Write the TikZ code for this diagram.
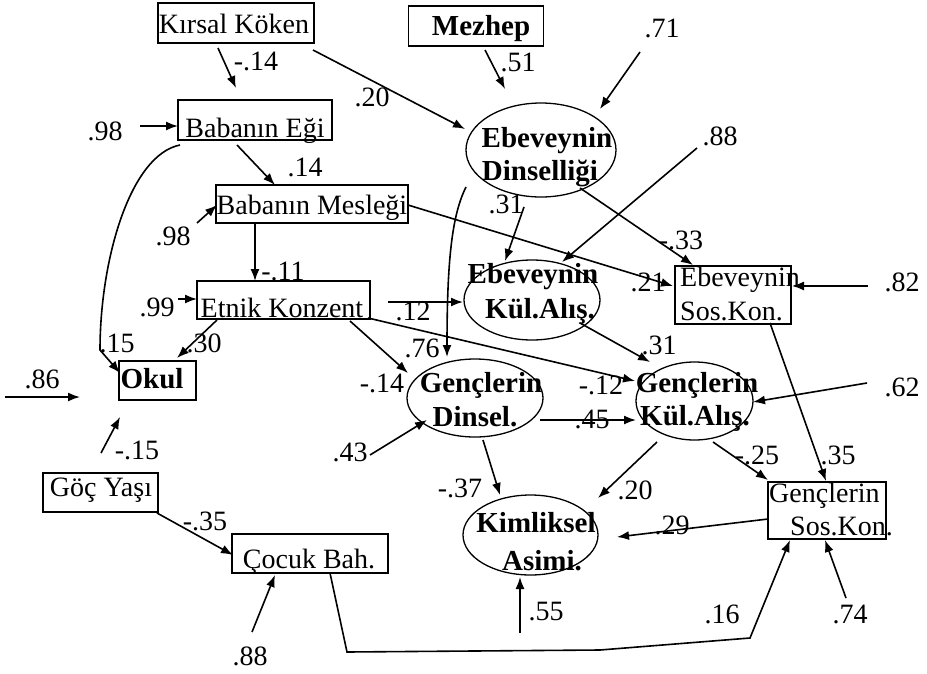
\documentclass[tikz,border=0pt]{standalone}
\usepackage{fontspec}
\setmainfont{Liberation Serif}
\usetikzlibrary{shapes.geometric,arrows.meta,calc}
\begin{document}
\begin{tikzpicture}[x=1pt,y=-1pt,
  box/.style={draw,line width=1.3pt,rectangle,inner sep=0pt},
  ell/.style={draw,line width=1.3pt,ellipse,inner sep=0pt},
  txt/.style={inner sep=0pt,anchor=base,font=\fontsize{28}{32}\selectfont},
  btxt/.style={inner sep=0pt,anchor=base,font=\fontsize{29}{32}\selectfont\bfseries},
  lbl/.style={inner sep=0pt,font=\fontsize{28}{32}\selectfont},
  arr/.style={line width=1.6pt,-{Latex[length=12pt,width=9pt]}}]
\path[use as bounding box] (0,0) rectangle (927,673);

% shapes
\node[box,minimum width=156pt,minimum height=40pt] (kk) at (236,23) {};
\node[box,minimum width=135pt,minimum height=40pt] (mz) at (476,26) {};
\node[box,minimum width=154pt,minimum height=40pt] (be) at (255,120) {};
\node[box,minimum width=192pt,minimum height=38pt] (bm) at (312,204) {};
\node[box,minimum width=173pt,minimum height=38pt] (ek) at (283.5,300) {};
\node[box,minimum width=77pt,minimum height=39pt] (ok) at (157.5,380.5) {};
\node[box,minimum width=115pt,minimum height=39pt] (gy) at (100.5,492.5) {};
\node[box,minimum width=156pt,minimum height=39pt] (cb) at (310,553.5) {};
\node[box,minimum width=116pt,minimum height=58pt] (es) at (733,295) {};
\node[box,minimum width=118pt,minimum height=57pt] (gs) at (827,510.5) {};
\node[ell,minimum width=150pt,minimum height=94pt] (ed) at (541,150) {};
\node[ell,minimum width=136pt,minimum height=80pt] (ea) at (532,300) {};
\node[ell,minimum width=136pt,minimum height=78pt] (gd) at (475,398) {};
\node[ell,minimum width=117pt,minimum height=78pt] (ga) at (694.5,401) {};
\node[ell,minimum width=135pt,minimum height=80pt] (ka) at (530.5,535) {};

% texts
\node[txt] (kkt) at (234,33) {Kırsal Köken};
\node[btxt] (mzt) at (481,35) {Mezhep};
\node[txt] (bet) at (255,137) {Babanın Eği};
\node[txt] (bmt) at (312,214) {Babanın Mesleği};
\node[txt] (ekt) at (282,317) {Etnik Konzent};
\node[btxt] (okt) at (152,388) {Okul};
\node[txt] (gyt) at (101,496) {Göç Yaşı};
\node[txt] (cbt) at (309,568) {Çocuk Bah.};
\node[txt,anchor=base west] (est1) at (680,286) {Ebeveynin};
\node[txt,anchor=base west] (est2) at (680,320) {Sos.Kon.};
\node[txt,anchor=base west] (gst1) at (769,502) {Gençlerin};
\node[txt,anchor=base west] (gst2) at (790,535) {Sos.Kon.};
\node[btxt] (edt1) at (547,147) {Ebeveynin};
\node[btxt] (edt2) at (540,180) {Dinselliği};
\node[btxt] (eat1) at (533,283) {Ebeveynin};
\node[btxt] (eat2) at (540,318) {Kül.Alış.};
\node[btxt] (gdt1) at (481,392) {Gençlerin};
\node[btxt] (gdt2) at (475,426) {Dinsel.};
\node[btxt] (gat1) at (697,392) {Gençlerin};
\node[btxt] (gat2) at (695,425) {Kül.Alış.};
\node[btxt] (kat1) at (536,532) {Kimliksel};
\node[btxt] (kat2) at (542,570) {Asimi.};

% free ends of error terms
\coordinate (u71) at (640,52);
\coordinate (u98a) at (140,126);
\coordinate (u98b) at (197,223);
\coordinate (u99) at (178,299);
\coordinate (u86) at (5,397);
\coordinate (u88c) at (252,632);
\coordinate (u55) at (520,633);
\coordinate (u74) at (846,598);
\coordinate (u62) at (867,383);
\coordinate (u82) at (868,286);
\coordinate (u88) at (697,148);
\coordinate (u43) at (370,455);

% connectors
\draw[arr] ($(kk)+(-18,25)$) -- ($(be)+(-19,-32)$);
\draw[arr] ($(kk)+(77,27)$) -- ($(ed)+(-76,-21)$);
\draw[arr] ($(mz)+(9,24)$) -- ($(ed)+(-36,-61)$);
\draw[arr] (u71) -- ($(ed)+(59,-41)$);
\draw[arr] (u98a) -- ($(be)+(-77,6)$);
\draw[arr] ($(be)+(-18,25)$) -- ($(bm)+(-37,-19)$);
\draw[arr] (u98b) -- ($(bm)+(-95,1)$);
\draw[arr] ($(bm)+(-57,19)$) -- ($(ek)+(-28.5,-19)$);
\draw[arr] (u99) -- ($(ek)+(-86.5,-1)$);
\draw[arr] ($(be)+(-75,25)$) .. controls (130,155) and (100,260) .. (100,350) -- ($(ok)+(-37.5,-7.5)$);
\draw[arr] ($(ek)+(-66.5,20)$) -- ($(ok)+(19.5,-22.5)$);
\draw[arr] (u86) -- ($(ok)+(-77.5,16.5)$);
\draw[arr] ($(gy)+(0.5,-39.5)$) -- ($(ok)+(-37.5,36.5)$);
\draw[arr] ($(gy)+(56.5,20.5)$) -- ($(cb)+(-77,1.5)$);
\draw[arr] (u88c) -- ($(cb)+(-35,21.5)$);
\draw[arr] ($(cb)+(20,19.5)$) -- (347,652) -- (600,650) -- (750,638) -- ($(gs)+(-37,29.5)$);
\draw[arr] (u55) -- ($(ka)+(-10.5,42)$);
\draw[arr] (u74) -- ($(gs)+(-2,29.5)$);
\draw[arr] ($(gs)+(-59,8.5)$) -- ($(ka)+(86.5,2)$);
\draw[arr] ($(ga)+(18.5,41)$) -- ($(gs)+(-59,-30.5)$);
\draw[arr] ($(es)+(37,28)$) -- ($(gs)+(-1,-29.5)$);
\draw[arr] (u62) -- ($(ga)+(58.5,1)$);
\draw[arr] (u82) -- ($(es)+(59,-9)$);
\draw[arr] (u88) -- ($(ea)+(30,-38)$);
\draw[arr] ($(ed)+(39,38)$) -- ($(es)+(-40,-30)$);
\draw[arr] ($(ed)+(-17,57)$) -- ($(ea)+(-27,-39)$);
\draw[arr] ($(bm)+(96,1)$) -- ($(es)+(-60,-9)$);
\draw[arr] ($(ek)+(104.5,2)$) -- ($(ea)+(-69,2)$);
\draw[arr] ($(ek)+(66.5,21)$) -- ($(gd)+(-67,-25)$);
\draw[arr] ($(ek)+(84.5,18)$) -- ($(ga)+(-59.5,-20)$);
\draw[arr] ($(ed)+(-75,37)$) .. controls (452,215) and (447,260) .. ($(gd)+(-28,-41)$);
\draw[arr] ($(ea)+(48,23)$) -- ($(ga)+(-44.5,-39)$);
\draw[arr] ($(gd)+(65,22)$) -- ($(ga)+(-58.5,19)$);
\draw[arr] (u43) -- ($(gd)+(-48,22)$);
\draw[arr] ($(gd)+(8,42)$) -- ($(ka)+(-30.5,-40)$);
\draw[arr] ($(ga)+(-37.5,41)$) -- ($(ka)+(67.5,-37)$);

% coefficient labels
\node[lbl] (c1) at (256,61) {-.14};
\node[lbl] (c2) at (372,97) {.20};
\node[lbl] (c3) at (518,62) {.51};
\node[lbl] (c4) at (662,28) {.71};
\node[lbl] (c5) at (105,131) {.98};
\node[lbl] (c6) at (305,167) {.14};
\node[lbl] (c7) at (173,236) {.98};
\node[lbl] (c8) at (283,271) {-.11};
\node[lbl] (c9) at (157,307) {.99};
\node[lbl] (c10) at (117,343) {.15};
\node[lbl] (c11) at (204,343) {.30};
\node[lbl] (c12) at (42,379) {.86};
\node[lbl] (c13) at (137,450) {-.15};
\node[lbl] (c14) at (205,521) {-.35};
\node[lbl] (c15) at (250,656) {.88};
\node[lbl] (c16) at (722,614) {.16};
\node[lbl] (c17) at (546,612) {.55};
\node[lbl] (c18) at (850,614) {.74};
\node[lbl] (c19) at (672,525) {.29};
\node[lbl] (c20) at (757,455) {-.25};
\node[lbl] (c21) at (838,455) {.35};
\node[lbl] (c22) at (681,240) {-.33};
\node[lbl] (c23) at (648,282) {.21};
\node[lbl] (c24) at (902,282) {.82};
\node[lbl] (c25) at (902,387) {.62};
\node[lbl] (c26) at (720,136) {.88};
\node[lbl] (c27) at (506,204) {.31};
\node[lbl] (c28) at (413,311) {.12};
\node[lbl] (c29) at (382,383) {-.14};
\node[lbl] (c30) at (601,385) {-.12};
\node[lbl] (c31) at (422,348) {.76};
\node[lbl] (c32) at (659,345) {.31};
\node[lbl] (c33) at (592,419) {.45};
\node[lbl] (c34) at (350,452) {.43};
\node[lbl] (c35) at (460,488) {-.37};
\node[lbl] (c36) at (635,490) {.20};
\end{tikzpicture}
\end{document}
